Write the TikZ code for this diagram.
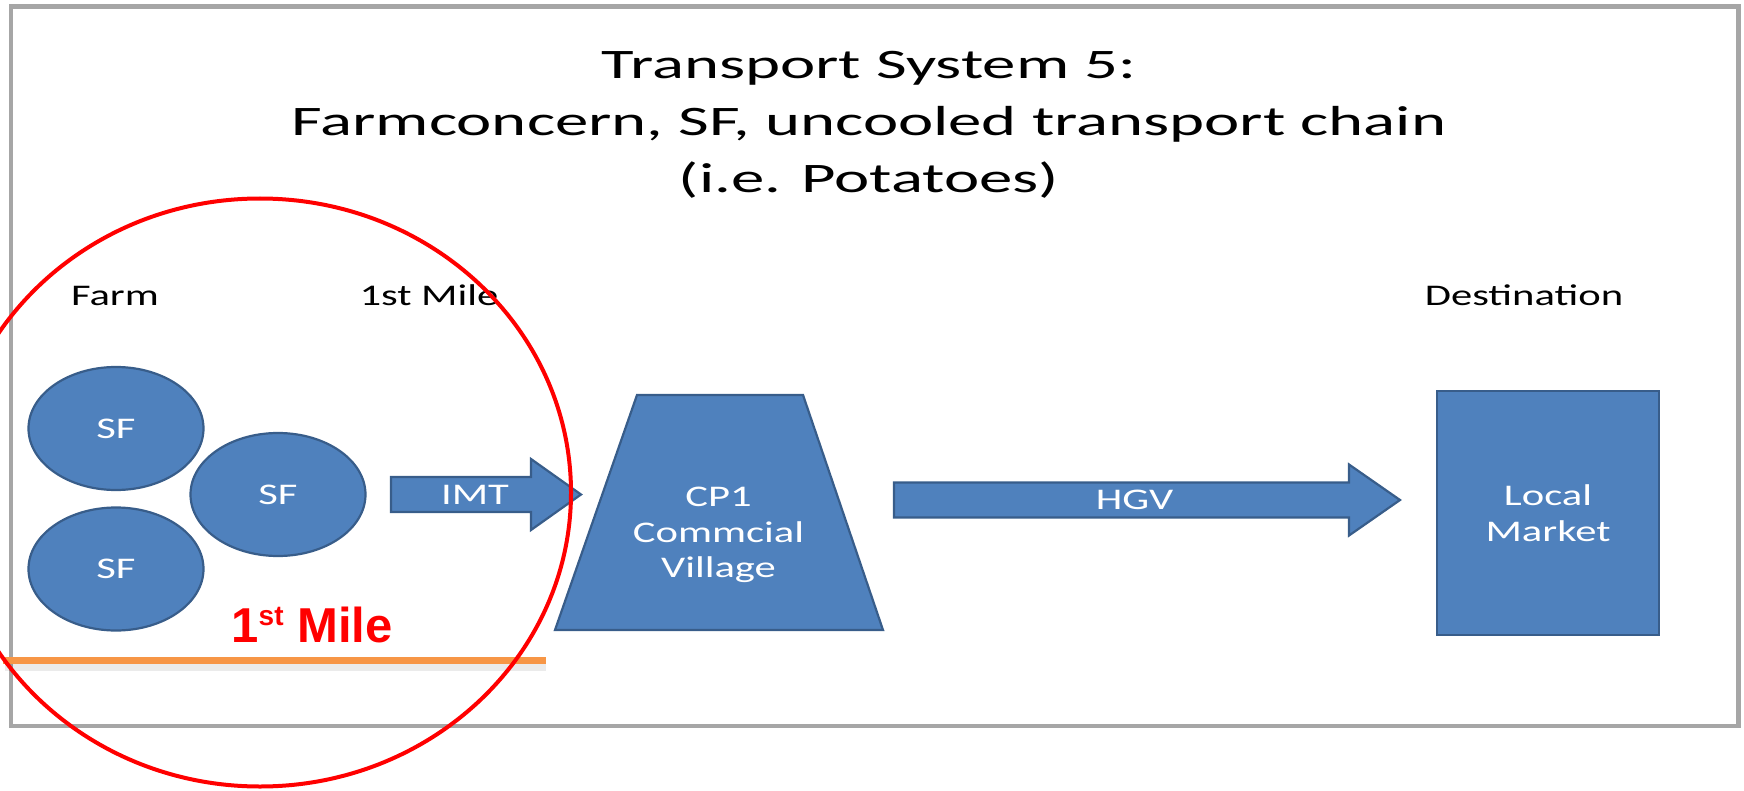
\documentclass[tikz,border=0pt]{standalone}
\usepackage{fontspec}
\usetikzlibrary{calc,shapes.geometric}
\setmainfont{Carlito}
\newfontfamily\titlefont[FakeStretch=1.59]{Carlito}
\newfontfamily\bodyfont[FakeStretch=1.42]{Carlito}
\newfontfamily\notefont{Liberation Sans}

\definecolor{boxfill}{HTML}{4F81BD}
\definecolor{boxline}{HTML}{385D8A}
\definecolor{framegray}{HTML}{A6A6A6}
\definecolor{noteorange}{HTML}{F79646}
\definecolor{notered}{HTML}{FF0000}

\begin{document}
\begin{tikzpicture}[x=0.5pt,y=-0.5pt,
  blueshape/.style={fill=boxfill, draw=boxline, line width=1.1pt},
  whitetext/.style={text=white, inner sep=0pt, align=center,
    font=\bodyfont\fontsize{15}{17.75}\selectfont},
  titletext/.style={inner sep=0pt, anchor=base,
    font=\titlefont\fontsize{21}{28.5}\selectfont},
  headtext/.style={inner sep=0pt, anchor=base,
    font=\bodyfont\fontsize{15}{18}\selectfont},
  farmnode/.style={blueshape, ellipse, minimum width=87.5pt,
    minimum height=61.5pt, whitetext},
  notetext/.style={inner sep=0pt, anchor=base, text=notered,
    font=\notefont\bfseries\fontsize{24.5}{29}\selectfont}]

\useasboundingbox (0,0) rectangle (1744,791);
\clip (0,0) rectangle (1744,791);

% slide frame
\draw[framegray, line width=2.25pt] (10.8,6.7) rectangle (1738.7,726);

% title
\node[titletext] (title1) at (869,79) {Transport System 5:};
\node[titletext] (title2) at (869,136) {Farmconcern, SF, uncooled transport chain};
\node[titletext] (title3) at (869,193) {(i.e. Potatoes)};

% column headings
\node[headtext] (farm) at (115,305) {Farm};
\node[headtext] (firstmile) at (429,305) {1st Mile};
\node[headtext] (dest) at (1524,305) {Destination};

% small farms
\node[farmnode] (sf1) at (116,428.5) {SF};
\node[farmnode] (sf2) at (278,494.5) {SF};
\node[farmnode] (sf3) at (116,569) {SF};

% first-mile transport arrow
\coordinate (imtTail) at (391,494.5);
\coordinate (imtTip) at (581,494.5);
\draw[blueshape] (imtTail) ++(0,-17.5) -- ++(140,0) -- ++(0,-18)
  -- (imtTip) -- ++(-50,35.5) -- ++(0,-18) -- ++(-140,0) -- cycle;
\node[whitetext] (imt) at (475,494.5) {IMT};

% collection point
\draw[blueshape] (637,395) -- (803,395) -- (883,630) -- (555,630) -- cycle;
\node[whitetext] (cp1) at (718.5,535) {CP1\\Commcial\\Village};

% long-haul arrow
\coordinate (hgvTail) at (894,500);
\coordinate (hgvTip) at (1400,500);
\draw[blueshape] (hgvTail) ++(0,-17.5) -- ++(455,0) -- ++(0,-18)
  -- (hgvTip) -- ++(-51,35.5) -- ++(0,-18) -- ++(-455,0) -- cycle;
\node[whitetext] (hgv) at (1134.5,500) {HGV};

% destination
\node[blueshape, rectangle, minimum width=111pt, minimum height=122pt,
  whitetext] (market) at (1548,513) {Local\\Market};

% first-mile highlight
\coordinate (barStart) at (3,660.3);
\coordinate (barEnd) at (546,660.3);
\draw[black, opacity=0.08, line width=4pt] ($(barStart)+(2,7)$) -- ($(barEnd)+(0,7)$);
\draw[noteorange, line width=3.5pt] (barStart) -- (barEnd);
\node[notetext] (milenote) at (312,642)
  {1\raisebox{8.5pt}{\fontsize{14}{14}\selectfont st} Mile};
\coordinate (ringCentre) at (260,492.5);
\draw[notered, line width=2pt] (ringCentre) ellipse [x radius=155.5pt, y radius=147pt];

\end{tikzpicture}
\end{document}
